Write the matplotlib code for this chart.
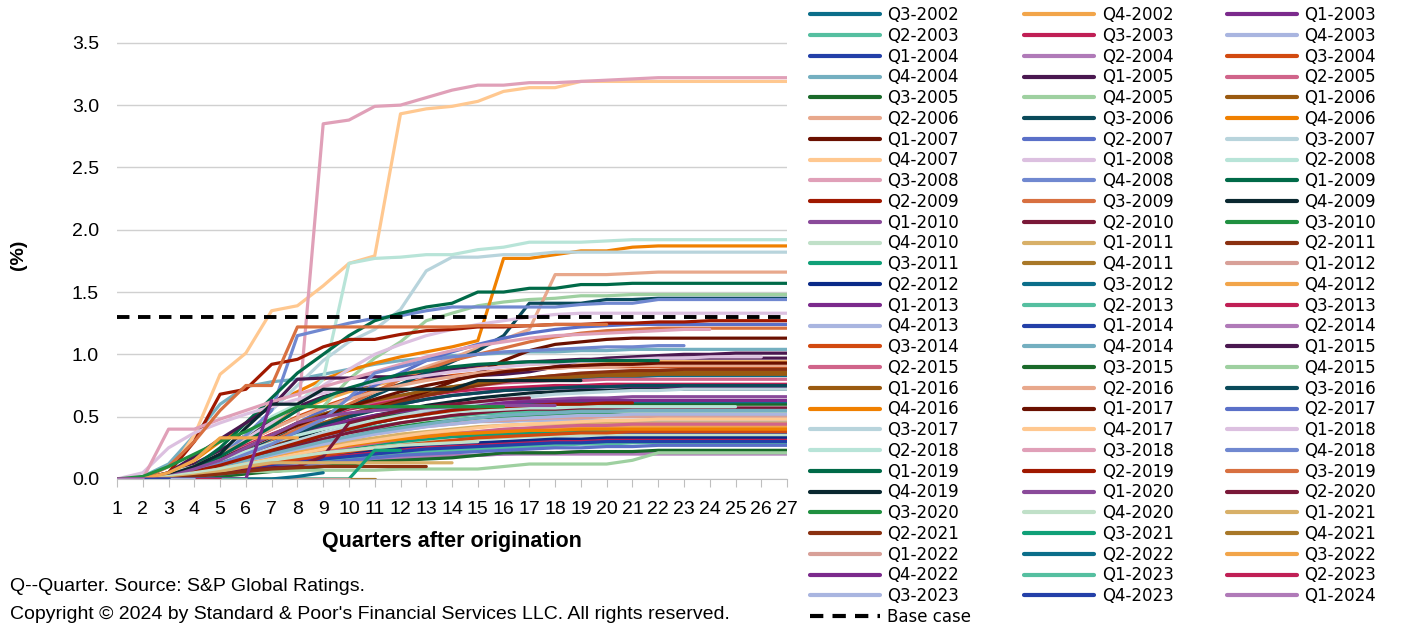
#!/usr/bin/env python3
import matplotlib
matplotlib.use("Agg")
import matplotlib.pyplot as plt

# vintages, oldest first
vintages = ["Q3-2002", "Q4-2002"] + \
    ["Q%d-%d" % (q, y) for y in range(2003, 2024) for q in range(1, 5)] + \
    ["Q1-2024"]

quarters = list(range(1, 28))
base_case = 1.30

# 40 colour palette, it restarts at Q2-2022
palette = ['#0b6e8a', '#f2a54a', '#7b2a8c', '#55bfa0', '#c01f55', '#a9b5e0', '#2340a8', '#b07ab8',
           '#d24a10', '#74afc0', '#4a1850', '#d0648a', '#1a6a2a', '#9ed0a0', '#9a5a10', '#e8a88c',
           '#0a4a5a', '#f08000', '#6a1000', '#5a70c8', '#b8d4dc', '#ffc890', '#dcc0e0', '#b8e4d8',
           '#e0a0b8', '#7088d0', '#006a48', '#a01800', '#d87040', '#0a2830', '#8a4a9a', '#7a1838',
           '#209040', '#c0e0c8', '#d8b068', '#8a3010', '#10a078', '#a87828', '#d8a098', '#0a2a88']
colors = palette + palette[:39] + palette[:8]

# cumulative loss (%) by quarter after origination, one row per vintage
cum_loss = [
    [0, 0, .02, .08, .15, .25, .35, .45, .52, .58, .63, .67, .71, .74, .76, .78, .79, .80, .81, .82, .82, .83, .83, .83, .83, .83, .83],
    [0, 0, .03, .10, .20, .33, .45, .55, .63, .70, .75, .80, .84, .87, .89, .91, .92, .93, .93, .94, .94, .94, .94, .94, .94, .94, .94],
    [0, 0, .02, .07, .14, .22, .30, .38, .45, .51, .56, .60, .64, .67, .69, .71, .72, .73, .73, .74, .74, .74, .74, .74, .74, .74, .74],
    [0, 0, .01, .05, .10, .16, .22, .28, .33, .38, .42, .45, .48, .50, .52, .53, .54, .55, .55, .55, .55, .55, .55, .55, .55, .55, .55],
    [0, .01, .04, .10, .18, .27, .36, .44, .50, .56, .60, .64, .67, .70, .72, .73, .74, .75, .75, .76, .76, .76, .76, .76, .76, .76, .76],
    [0, 0, .03, .08, .14, .20, .25, .30, .34, .37, .40, .42, .44, .45, .46, .46, .47, .47, .47, .47, .47, .47, .47, .47, .47, .47, .47],
    [0, 0, .02, .05, .09, .14, .18, .22, .25, .28, .30, .32, .33, .34, .35, .35, .36, .36, .36, .36, .36, .36, .36, .36, .36, .36, .36],
    [0, 0, .01, .03, .05, .08, .10, .12, .14, .15, .16, .17, .18, .19, .19, .20, .20, .20, .20, .20, .20, .20, .20, .20, .20, .20, .20],
    [0, 0, .03, .10, .20, .30, .40, .50, .58, .65, .71, .76, .80, .83, .85, .87, .88, .89, .90, .90, .90, .90, .90, .90, .90, .90, .90],
    [0, .02, .12, .35, .60, .74, .78, .80, .84, .88, .92, .95, .97, .99, 1.00, 1.01, 1.02, 1.02, 1.03, 1.03, 1.04, 1.04, 1.04, 1.04, 1.04, 1.04, 1.04],
    [0, 0, .04, .12, .23, .35, .47, .58, .66, .72, .77, .81, .85, .88, .91, .93, .94, .95, .96, .96, .97, .97, .97, .97, .97, .97, .97],
    [0, 0, .03, .09, .17, .26, .35, .44, .51, .57, .62, .66, .70, .73, .75, .77, .78, .79, .79, .80, .80, .80, .80, .80, .80, .80, .80],
    [0, 0, .02, .07, .13, .20, .27, .34, .40, .45, .49, .52, .55, .57, .58, .59, .60, .60, .60, .60, .60, .60, .60, .60, .60, .60, .60],
    [0, 0, .02, .06, .12, .20, .30, .42, .58, .80, .97, 1.10, 1.27, 1.33, 1.39, 1.42, 1.44, 1.45, 1.47, 1.47, 1.48, 1.48, 1.48, 1.48, 1.48, 1.48, 1.48],
    [0, 0, .02, .07, .14, .22, .30, .38, .45, .52, .58, .63, .68, .72, .76, .79, .81, .83, .84, .85, .85, .86, .86, .86, .86, .86, .86],
    [0, 0, .03, .08, .15, .25, .35, .45, .55, .65, .75, .83, .90, .97, 1.05, 1.12, 1.20, 1.64, 1.64, 1.64, 1.65, 1.66, 1.66, 1.66, 1.66, 1.66, 1.66],
    [0, 0, .02, .07, .14, .22, .31, .40, .49, .58, .67, .76, .85, .94, 1.03, 1.15, 1.41, 1.41, 1.41, 1.44, 1.44, 1.45, 1.45, 1.45, 1.45, 1.45, 1.45],
    [0, 0, .05, .15, .30, .45, .60, .70, .80, .87, .93, .98, 1.02, 1.06, 1.11, 1.77, 1.77, 1.80, 1.83, 1.83, 1.86, 1.87, 1.87, 1.87, 1.87, 1.87, 1.87],
    [0, 0, .02, .05, .10, .18, .27, .35, .42, .50, .57, .63, .70, .78, .85, .95, 1.03, 1.08, 1.10, 1.12, 1.13, 1.13, 1.13, 1.13, 1.13, 1.13, 1.13],
    [0, 0, .03, .08, .16, .25, .35, .45, .55, .65, .75, .85, .95, 1.02, 1.08, 1.13, 1.17, 1.20, 1.22, 1.23, 1.24, 1.24, 1.24, 1.24, 1.24, 1.24, 1.24],
    [0, 0, .02, .05, .15, .35, .55, .75, .95, 1.10, 1.20, 1.36, 1.67, 1.78, 1.78, 1.80, 1.80, 1.82, 1.82, 1.82, 1.82, 1.82, 1.82, 1.82, 1.82, 1.82, 1.82],
    [0, 0, .05, .35, .84, 1.01, 1.35, 1.39, 1.55, 1.73, 1.79, 2.93, 2.97, 2.99, 3.03, 3.11, 3.14, 3.14, 3.19, 3.19, 3.19, 3.19, 3.19, 3.19, 3.19, 3.19, 3.19],
    [0, 0, .03, .10, .20, .32, .45, .60, .75, .88, 1.00, 1.08, 1.15, 1.20, 1.24, 1.27, 1.30, 1.32, 1.33, 1.33, 1.33, 1.33, 1.33, 1.33, 1.33, 1.33, 1.33],
    [0, 0, .05, .10, .20, .35, .50, .60, .80, 1.73, 1.77, 1.78, 1.80, 1.80, 1.84, 1.86, 1.90, 1.90, 1.90, 1.91, 1.92, 1.92, 1.92, 1.92, 1.92, 1.92, 1.92],
    [0, 0, 0, .02, .05, .10, .20, .45, 2.85, 2.88, 2.99, 3.00, 3.06, 3.12, 3.16, 3.16, 3.18, 3.18, 3.19, 3.20, 3.21, 3.22, 3.22, 3.22, 3.22, 3.22, 3.22],
    [0, 0, .02, .08, .18, .35, .55, 1.15, 1.20, 1.25, 1.29, 1.31, 1.35, 1.38, 1.38, 1.38, 1.38, 1.38, 1.40, 1.41, 1.41, 1.44, 1.44, 1.44, 1.44, 1.44, 1.44],
    [0, 0, .02, .10, .25, .45, .65, .85, 1.00, 1.15, 1.27, 1.33, 1.38, 1.41, 1.50, 1.50, 1.53, 1.53, 1.56, 1.56, 1.57, 1.57, 1.57, 1.57, 1.57, 1.57, 1.57],
    [0, 0, .05, .30, .68, .72, .92, .96, 1.06, 1.12, 1.12, 1.16, 1.19, 1.20, 1.22, 1.22, 1.23, 1.24, 1.24, 1.25, 1.25, 1.26, 1.26, 1.27, 1.27, 1.27, 1.27],
    [0, 0, .02, .06, .12, .20, .30, .40, .50, .60, .70, .80, .88, .95, 1.00, 1.05, 1.10, 1.14, 1.17, 1.19, 1.20, 1.21, 1.21, 1.21, 1.21, 1.21, 1.21],
    [0, 0, .02, .06, .12, .19, .26, .33, .40, .46, .51, .55, .59, .62, .65, .67, .69, .70, .71, .71, .72, .72, .72, .72, .72, .72, .72],
    [0, 0, .02, .06, .11, .17, .23, .29, .35, .40, .45, .49, .53, .56, .59, .61, .63, .64, .65, .65, .66, .66, .66, .66, .66, .66, .66],
    [0, 0, .02, .05, .10, .15, .21, .27, .32, .37, .41, .45, .48, .51, .53, .55, .56, .56, .57, .57, .57, .57, .57, .57, .57, .57, .57],
    [0, 0, .01, .04, .08, .13, .18, .24, .29, .34, .38, .42, .45, .47, .49, .50, .51, .52, .52, .52, .52, .52, .52, .52, .52, .52, .52],
    [0, 0, .01, .03, .06, .10, .14, .18, .21, .24, .26, .28, .30, .31, .32, .33, .34, .34, .35, .35, .35, .35, .35, .35, .35, .35, .35],
    [0, 0, .01, .04, .08, .12, .17, .22, .26, .30, .33, .36, .38, .40, .42, .43, .44, .44, .45, .45, .45, .45, .45, .45, .45, .45, .45],
    [0, 0, .02, .06, .12, .19, .27, .35, .43, .50, .56, .62, .67, .71, .75, .78, .81, .83, .85, .86, .87, .87, .88, .88, .88, .88, .88],
    [0, 0, .01, .03, .06, .10, .14, .18, .22, .25, .28, .30, .32, .34, .35, .36, .37, .38, .38, .39, .39, .39, .39, .39, .39, .39, .39],
    [0, 0, .01, .04, .07, .11, .15, .19, .23, .26, .29, .32, .34, .36, .37, .38, .39, .40, .40, .41, .41, .41, .41, .41, .41, .41, .41],
    [0, 0, .02, .05, .09, .14, .19, .24, .28, .32, .36, .39, .42, .44, .46, .47, .48, .49, .49, .50, .50, .50, .50, .50, .50, .50, .50],
    [0, 0, .01, .03, .06, .09, .12, .15, .18, .21, .23, .25, .27, .28, .29, .30, .31, .32, .32, .33, .33, .33, .33, .33, .33, .33, .33],
    [0, 0, .02, .06, .11, .17, .23, .29, .35, .40, .45, .49, .52, .55, .57, .59, .60, .61, .61, .62, .62, .62, .62, .62, .62, .62, .62],
    [0, 0, .02, .05, .09, .13, .17, .21, .25, .28, .31, .33, .35, .37, .38, .39, .40, .41, .41, .42, .42, .42, .42, .42, .42, .42, .42],
    [0, 0, .03, .08, .15, .22, .29, .36, .42, .47, .51, .54, .57, .59, .60, .61, .62, .62, .63, .63, .63, .63, .63, .63, .63, .63, .63],
    [0, 0, .01, .02, .04, .07, .09, .12, .14, .16, .18, .20, .22, .23, .24, .25, .26, .27, .28, .28, .29, .29, .29, .29, .29, .29, .29],
    [0, 0, .01, .03, .05, .08, .11, .14, .17, .19, .21, .23, .25, .26, .27, .28, .29, .30, .30, .31, .31, .31, .31, .31, .31, .31, .31],
    [0, 0, .02, .05, .09, .14, .19, .24, .28, .32, .36, .39, .42, .44, .46, .48, .49, .50, .51, .51, .52, .52, .52, .52, .52, .52, .52],
    [0, 0, .01, .02, .04, .07, .10, .13, .16, .18, .20, .22, .24, .25, .26, .27, .28, .29, .29, .30, .30, .30, .30, .30, .30, .30, .30],
    [0, 0, .01, .02, .04, .06, .08, .10, .12, .14, .15, .16, .17, .18, .19, .20, .21, .21, .22, .22, .22, .22, .22, .22, .22, .22, .22],
    [0, 0, .01, .03, .06, .09, .13, .16, .19, .22, .25, .27, .29, .31, .33, .34, .35, .36, .37, .37, .38, .38, .38, .38, .38, .38, .38],
    [0, 0, .02, .05, .10, .15, .20, .25, .30, .34, .38, .41, .44, .47, .49, .51, .52, .53, .54, .54, .55, .55, .55, .55, .55, .55, .55],
    [0, 0, .05, .18, .32, .45, .58, .80, .81, .81, .82, .82, .82, .82, .83, .84, .86, .90, .95, .97, .98, .99, 1.00, 1.00, 1.01, 1.01, 1.01],
    [0, 0, .01, .04, .07, .11, .15, .19, .23, .26, .29, .32, .34, .36, .38, .40, .41, .42, .43, .43, .44, .44, .44, .44, .44, .44, .44],
    [0, 0, 0, .01, .02, .04, .06, .08, .10, .12, .14, .15, .16, .17, .19, .21, .21, .21, .22, .22, .22, .23, .23, .23, .23, .23, .23],
    [0, 0, .01, .03, .05, .06, .06, .07, .07, .07, .07, .08, .08, .08, .08, .10, .12, .12, .12, .12, .15, .21, .21, .21, .21, .21, .21],
    [0, 0, .02, .07, .15, .25, .35, .45, .52, .58, .63, .67, .71, .74, .77, .79, .80, .81, .82, .83, .83, .84, .84, .84, .84, .84, .84],
    [0, 0, .03, .10, .20, .30, .40, .49, .57, .64, .70, .75, .79, .82, .85, .87, .88, .89, .90, .90, .91, .91, .91, .91, .91, .91, .91],
    [0, 0, .02, .06, .13, .21, .29, .37, .44, .50, .55, .60, .64, .67, .69, .71, .72, .73, .74, .74, .75, .75, .75, .75, .75, .75, .75],
    [0, 0, .01, .04, .08, .12, .16, .20, .24, .27, .30, .32, .34, .36, .37, .38, .39, .39, .40, .40, .40, .40, .40, .40, .40, .40, .40],
    [0, 0, .02, .08, .16, .25, .34, .43, .51, .58, .64, .70, .75, .79, .83, .86, .88, .90, .91, .92, .92, .93, .93, .93, .93, .93, .93],
    [0, 0, .01, .02, .04, .06, .09, .11, .13, .15, .17, .19, .20, .21, .22, .23, .24, .25, .25, .26, .26, .27, .27, .27, .27, .27, .27],
    [0, 0, .02, .06, .12, .18, .25, .31, .37, .42, .47, .51, .55, .58, .61, .64, .66, .68, .69, .70, .71, .71, .72, .72, .72, .72, .72],
    [0, 0, .01, .04, .08, .12, .16, .20, .24, .28, .31, .34, .37, .39, .41, .43, .44, .45, .46, .47, .47, .48, .48, .48, .48, .48, .48],
    # Q1-2018 onwards: shorter history
    [0, .05, .25, .37, .45, .52, .58, .64, .69, .73, .77, .80, .83, .86, .88, .90, .92, .93, .94, .95, .96, .97, .97, .98, .98, .98],
    [0, 0, .02, .08, .15, .22, .29, .35, .40, .44, .47, .50, .52, .54, .55, .56, .57, .57, .58, .58, .58, .58, .58, .58, .58],
    [0, 0, .40, .40, .48, .55, .62, .68, .74, .80, .86, .92, .98, 1.03, 1.07, 1.10, 1.13, 1.15, 1.16, 1.17, 1.18, 1.19, 1.20, 1.20],
    [0, 0, .02, .06, .12, .20, .28, .38, .48, .65, .85, .90, .95, .98, 1.00, 1.02, 1.03, 1.04, 1.05, 1.06, 1.06, 1.07, 1.07],
    [0, 0, .02, .08, .18, .30, .42, .55, .65, .73, .79, .84, .87, .90, .92, .93, .94, .94, .95, .95, .95, .95],
    [0, 0, .02, .06, .11, .17, .23, .29, .35, .40, .45, .49, .52, .55, .57, .58, .59, .60, .60, .61, .61],
    [0, 0, .10, .30, .55, .75, .75, 1.22, 1.22, 1.22, 1.22, 1.22, 1.22, 1.22, 1.23, 1.23, 1.23, 1.24, 1.24, 1.24],
    [0, 0, .03, .10, .20, .41, .60, .60, .72, .72, .72, .72, .72, .72, .79, .79, .79, .79, .79],
    [0, 0, .02, .08, .15, .25, .35, .45, .50, .53, .55, .56, .57, .58, .58, .59, .59, .59],
    [0, 0, .01, .03, .05, .07, .09, .10, .18, .45, .50, .55, .58, .60, .62, .64, .65],
    [0, .02, .10, .20, .30, .38, .48, .58, .58, .58, .58, .58, .58, .58, .58, .58],
    [0, 0, .02, .05, .08, .12, .15, .18, .21, .23, .25, .27, .28, .29, .30],
    [0, 0, .01, .03, .06, .10, .13, .13, .13, .13, .13, .13, .13, .13],
    [0, 0, 0, .02, .04, .06, .08, .09, .10, .10, .10, .10, .10],
    [0, 0, 0, 0, 0, 0, 0, 0, 0, 0, .23, .23],
    [0, 0, 0, 0, 0, 0, 0, 0, 0, 0, 0],
    [0, 0, 0, 0, 0, 0, 0, 0, 0, 0],
    [0, 0, 0, 0, 0, 0, 0, .02, .05],
    [0, 0, .05, .15, .33, .33, .33, .33],
    [0, 0, 0, 0, 0, 0, .63],
    [0, 0, 0, 0, 0, 0],
    [0, 0, 0, 0, 0],
    [0, 0, 0, 0],
    [0, 0, 0],
    [0, 0],
]


def main():
    fig = plt.figure(figsize=(14.03, 6.24), dpi=100)
    ax = fig.add_axes([0.0834, 0.2324, 0.4776, 0.719])
    narrow = ['Liberation Sans', 'DejaVu Sans']

    handles = []
    for name, vals, col in zip(vintages, cum_loss, colors):
        h, = ax.plot(quarters[:len(vals)], vals, color=col, lw=2.3, label=name,
                     solid_joinstyle='round', solid_capstyle='round')
        handles.append(h)

    h, = ax.plot(quarters, [base_case] * len(quarters), color='black', lw=2.8,
                 linestyle=(0, (3.2, 2.2)), label='Base case')
    handles.append(h)

    ax.set_xlim(1, 27)
    ax.set_ylim(0, 3.6)
    ax.set_xticks(quarters)
    ax.set_yticks([0, 0.5, 1.0, 1.5, 2.0, 2.5, 3.0, 3.5])
    ax.set_yticklabels(["%.1f" % v for v in ax.get_yticks()])
    ax.grid(axis='y', color='#d0d0d0', lw=1)
    ax.set_axisbelow(True)
    for s in ['top', 'right', 'left']:
        ax.spines[s].set_visible(False)
    ax.spines['bottom'].set_color('#bfbfbf')
    ax.tick_params(axis='x', length=6, color='#bfbfbf', pad=10)
    ax.tick_params(axis='y', length=0, pad=13)
    for lab in ax.get_xticklabels() + ax.get_yticklabels():
        lab.set_family(narrow)
        lab.set_fontsize(14)

    ax.set_xlabel("Quarters after origination", fontsize=15.5, fontweight='bold',
                  family=narrow, labelpad=9)
    ax.set_ylabel("(%)", fontsize=14, fontweight='bold', family=narrow, labelpad=32)

    # legend is read row by row, matplotlib fills column by column
    order = list(range(0, 88, 3)) + list(range(1, 88, 3)) + list(range(2, 88, 3))
    leg = fig.legend([handles[i] for i in order], [handles[i].get_label() for i in order],
                     ncol=3, loc='upper left', bbox_to_anchor=(0.577, 0.990), frameon=False,
                     fontsize=12, handlelength=4.2, handletextpad=0.45, columnspacing=3.2,
                     labelspacing=0.165, borderpad=0, borderaxespad=0)
    for line in leg.get_lines():
        line.set_linewidth(3.0)

    fig.text(0.007, 0.060, "Q--Quarter. Source: S&P Global Ratings.", fontsize=14,
             family=narrow, va='center')
    fig.text(0.007, 0.016, "Copyright \u00a9 2024 by Standard & Poor's Financial Services LLC. All rights reserved.",
             fontsize=14, family=narrow, va='center')

    fig.savefig("out.png", dpi=100)


if __name__ == '__main__':
    main()
